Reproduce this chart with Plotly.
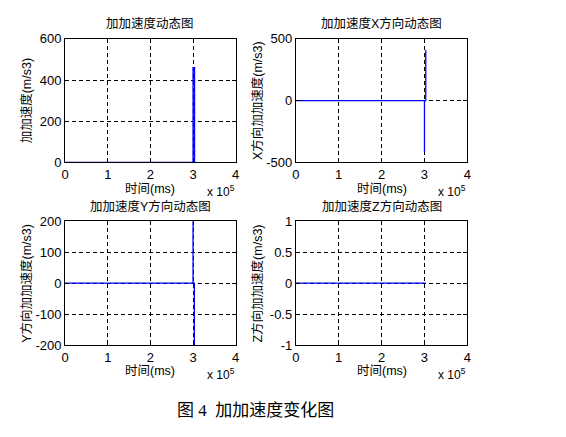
import plotly.graph_objects as go

# ---- data -------------------------------------------------------------
# time axis in ms, jerk in m/s^3
t_mag = [0, 3.0e5, 3.0e5, 3.035e5, 3.035e5]
jerk_mag = [0, 0, 460, 460, 0]

t_x = [0, 3.0e5, 3.0e5, 3.0e5, 3.03e5, 3.03e5]
jerk_x = [0, 0, -415, 0, 0, 410]

t_y = [0, 3.0e5, 3.0e5, 3.0e5, 3.03e5, 3.03e5]
jerk_y = [0, 0, 205, 0, 0, -205]

t_z = [0, 3.03e5]
jerk_z = [0, 0]

x_tickvals = [0, 1e5, 2e5, 3e5, 4e5]
x_ticktext = ["0", "1", "2", "3", "4"]

titles = ["加加速度动态图", "加加速度X方向动态图", "加加速度Y方向动态图", "加加速度Z方向动态图"]
y_titles = ["加加速度(m/s3)", "X方向加加速度(m/s3)", "Y方向加加速度(m/s3)", "Z方向加加速度(m/s3)"]
x_title = "时间(ms)"
caption = "图 4  加加速度变化图"

y_ranges = [[0, 600], [-500, 500], [-200, 200], [-1, 1]]
y_tickvals = [[0, 200, 400, 600], [-500, 0, 500], [-200, -100, 0, 100, 200], [-1, -0.5, 0, 0.5, 1]]
y_ticktext = [["0", "200", "400", "600"], ["-500", "0", "500"],
              ["-200", "-100", "0", "100", "200"], ["-1", "-0.5", "0", "0.5", "1"]]

series = [(t_mag, jerk_mag), (t_x, jerk_x), (t_y, jerk_y), (t_z, jerk_z)]

# ---- layout geometry (pixels) -----------------------------------------
W, H = 566, 437
cols = [(62, 235), (296, 470)]
rows = [(33, 161), (222, 350)]


def px(x):
    return x / W


def py(y):
    return 1 - y / H


TICK_FONT = dict(family="Liberation Sans, Arial, sans-serif", size=13, color="black")
SMALL_FONT = dict(family="Liberation Sans, Arial, sans-serif", size=12, color="black")
CJK_FONT = dict(family="Liberation Sans, Noto Sans CJK SC, sans-serif", size=12.5, color="black")

fig = go.Figure()
annotations = []

for i, (tt, vv) in enumerate(series):
    r, c = divmod(i, 2)
    x0, x1 = cols[c]
    y0, y1 = rows[r]
    xa = "xaxis" if i == 0 else f"xaxis{i + 1}"
    ya = "yaxis" if i == 0 else f"yaxis{i + 1}"
    xref = "x" if i == 0 else f"x{i + 1}"
    yref = "y" if i == 0 else f"y{i + 1}"

    fig.add_trace(go.Scatter(x=tt, y=vv, mode="lines",
                             line=dict(color="#0000FF", width=1.3),
                             xaxis=xref, yaxis=yref, showlegend=False,
                             hoverinfo="skip"))

    common = dict(showline=True, mirror="ticks", linecolor="black", linewidth=1,
                  ticks="inside", ticklen=4, tickcolor="black",
                  showgrid=True, gridcolor="black", gridwidth=1, griddash="4px,3px",
                  zeroline=False, tickfont=TICK_FONT, fixedrange=True)

    fig.layout[xa] = dict(domain=[px(x0), px(x1)], anchor=yref, range=[0, 4e5],
                          tickvals=x_tickvals, ticktext=x_ticktext, **common)
    fig.layout[ya] = dict(domain=[py(y1), py(y0)], anchor=xref, range=y_ranges[i],
                          tickvals=y_tickvals[i], ticktext=y_ticktext[i], **common)

    xc = (x0 + x1) / 2
    # subplot title
    annotations.append(dict(text=titles[i], x=px(xc), y=py(y0 - 15.5), xref="paper", yref="paper",
                            showarrow=False, font=CJK_FONT, xanchor="center", yanchor="middle"))
    # x-axis title
    annotations.append(dict(text=x_title, x=px(xc), y=py(y1 + 27), xref="paper", yref="paper",
                            showarrow=False, font=CJK_FONT, xanchor="center", yanchor="middle"))
    # x10^5 exponent label
    annotations.append(dict(text="x 10<sup>5</sup>", x=px(x1 + 1), y=py(y1 + 30), xref="paper",
                            yref="paper", showarrow=False, font=SMALL_FONT,
                            xanchor="right", yanchor="middle"))
    # y-axis title
    annotations.append(dict(text=y_titles[i], x=px(x0 - 39), y=py((y0 + y1) / 2), xref="paper",
                            yref="paper", showarrow=False, font=CJK_FONT, textangle=-90,
                            xanchor="center", yanchor="middle"))

annotations.append(dict(text=caption, x=px(255), y=py(418), xref="paper", yref="paper",
                        showarrow=False, xanchor="center", yanchor="middle",
                        font=dict(family="Liberation Serif, Noto Sans CJK SC, serif",
                                  size=17, color="black")))

fig.update_layout(width=W, height=H, margin=dict(l=0, r=0, t=0, b=0),
                  paper_bgcolor="white", plot_bgcolor="white",
                  annotations=annotations)

fig.write_html("out.html")
